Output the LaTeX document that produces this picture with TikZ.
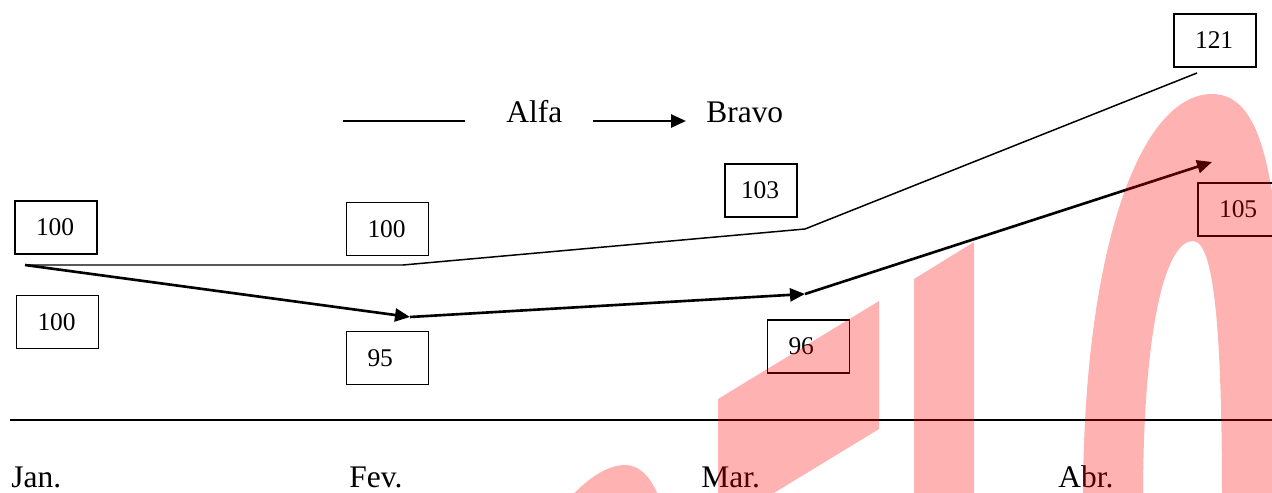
\documentclass[tikz,border=0pt]{standalone}
\usepackage{fontspec}
\setmainfont{Liberation Serif}
\usetikzlibrary{arrows.meta}

\begin{document}
\begin{tikzpicture}[x=0.02cm, y=-0.02cm,
        valbox/.style={draw, line width=0.85pt, minimum height=1.06cm, text width=0.8cm,
            inner xsep=0.42cm, align=left, font=\fontsize{14.5}{16}\selectfont},
        lbl/.style={anchor=base west, inner sep=0pt, font=\fontsize{17.9}{20}\selectfont},
        alfa/.style={line width=0.85pt},
        bravo/.style={line width=1.5pt, -{Triangle[length=0.3cm,width=0.26cm]}},
        stamp/.style={fill=red, fill opacity=0.3, draw=none}]
        \useasboundingbox (0,0) rectangle (1272,493);

        % legend
        \coordinate (la) at (343,121);
        \coordinate (lb) at (465,121);
        \coordinate (lc) at (593,121);
        \coordinate (ld) at (686,121);
        \node[lbl] (alfa) at (506,123) {Alfa};
        \node[lbl] (bravo) at (706,123) {Bravo};
        \draw[alfa] (la) -- (lb);
        \draw[bravo] (lc) -- (ld);

        % months
        \coordinate (ax0) at (10,420);
        \coordinate (ax1) at (1272,420);
        \draw[alfa] (ax0) -- (ax1);
        \node[lbl] (jan) at (11,487.5) {Jan.};
        \node[lbl] (fev) at (349,487.5) {Fev.};
        \node[lbl] (mar) at (701,487.5) {Mar.};
        \node[lbl] (abr) at (1058,487.5) {Abr.};

        % values
        \node[valbox] (a1) at (56,227.5) {100};
        \node[valbox] (b1) at (57.5,322) {100};
        \node[valbox] (a2) at (387.5,229) {100};
        \node[valbox] (b2) at (387.5,358) {95};
        \node[valbox, inner xsep=0.32cm] (a3) at (761,190.5) {103};
        \node[valbox] (b3) at (808.5,346.5) {96};
        \node[valbox] (a4) at (1215,40.5) {121};
        \node[valbox] (b4) at (1239,209.5) {105};

        \coordinate (p0) at (25,265);
        \coordinate (a2p) at (403,265);
        \coordinate (a3p) at (805,229);
        \coordinate (a4p) at (1197,73);
        \coordinate (b2p) at (410,317);
        \coordinate (b3p) at (805,294);
        \coordinate (b4p) at (1212,162);

        % Alfa
        \draw[alfa] (p0) -- (a2p) -- (a3p) -- (a4p);

        % Bravo
        \draw[bravo] (p0) -- (b2p);
        \draw[bravo] (b2p) -- (b3p);
        \draw[bravo] (b3p) -- (b4p);

        % stamp
        \fill[stamp] (568,500) .. controls (590,475) and (610,465) .. (625,465)
            .. controls (640,465) and (652,478) .. (660,500) -- cycle;
        \fill[stamp] (718,399) -- (879,301) -- (879,429) -- (718,527) -- cycle;
        \fill[stamp] (914,279) -- (974,242) -- (974,500) -- (914,500) -- cycle;
        \fill[stamp, even odd rule] (1083,500) .. controls (1083,250) and (1140,94) .. (1212,94)
            .. controls (1270,94) and (1286,200) .. (1286,500) -- cycle
            (1143,500) .. controls (1143,330) and (1165,241) .. (1193,241)
            .. controls (1214,241) and (1222,330) .. (1222,500) -- cycle;
    \end{tikzpicture}
\end{document}
